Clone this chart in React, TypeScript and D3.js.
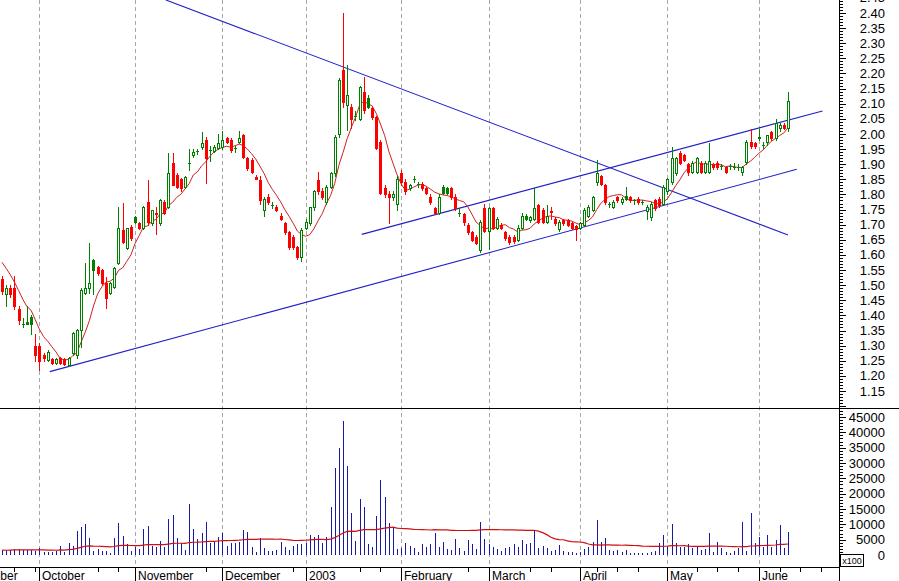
import React from 'react';
import * as d3 from 'd3';

// ---------- DATA ----------
// [open, high, low, close] per trading bar
const sepBars = [
  [1.52, 1.53, 1.47, 1.48], [1.47, 1.50, 1.43, 1.49], [1.49, 1.50, 1.46, 1.47],
  [1.49, 1.53, 1.42, 1.43], [1.42, 1.43, 1.37, 1.385], [1.37, 1.39, 1.36, 1.37],
  [1.372, 1.43, 1.37, 1.378], [1.372, 1.40, 1.34, 1.395], [1.30, 1.34, 1.25, 1.27],
];
const octBars = [
  [1.30, 1.31, 1.22, 1.25], [1.269, 1.275, 1.25, 1.259], [1.253, 1.285, 1.25, 1.279],
  [1.256, 1.26, 1.24, 1.243], [1.243, 1.258, 1.238, 1.256], [1.258, 1.262, 1.24, 1.243],
  [1.256, 1.26, 1.236, 1.24], [1.236, 1.262, 1.232, 1.259], [1.276, 1.345, 1.27, 1.342],
  [1.269, 1.355, 1.26, 1.352], [1.352, 1.49, 1.296, 1.484], [1.475, 1.573, 1.47, 1.49],
  [1.49, 1.639, 1.474, 1.507], [1.55, 1.585, 1.47, 1.583], [1.56, 1.565, 1.535, 1.54],
  [1.55, 1.555, 1.50, 1.507], [1.507, 1.527, 1.424, 1.458], [1.474, 1.51, 1.47, 1.507],
  [1.494, 1.56, 1.49, 1.557], [1.573, 1.758, 1.57, 1.689], [1.682, 1.772, 1.64, 1.643],
  [1.623, 1.69, 1.62, 1.689], [1.692, 1.70, 1.65, 1.656],
];
const novBars = [
  [1.709, 1.73, 1.705, 1.725], [1.706, 1.71, 1.685, 1.69], [1.689, 1.762, 1.685, 1.758],
  [1.775, 1.848, 1.70, 1.709], [1.706, 1.75, 1.70, 1.749], [1.737, 1.76, 1.67, 1.735],
  [1.706, 1.785, 1.70, 1.782], [1.775, 1.78, 1.735, 1.739], [1.758, 1.937, 1.755, 1.871],
  [1.904, 1.937, 1.83, 1.831], [1.864, 1.87, 1.82, 1.825], [1.85, 1.855, 1.81, 1.82],
  [1.825, 1.86, 1.82, 1.858], [1.904, 1.95, 1.88, 1.905], [1.93, 1.95, 1.925, 1.94],
  [1.94, 1.95, 1.935, 1.944], [1.957, 2.007, 1.95, 1.97], [1.98, 1.99, 1.838, 1.92],
  [1.944, 1.96, 1.91, 1.946], [1.944, 1.965, 1.94, 1.957], [1.954, 2.00, 1.95, 1.97],
];
const decBars = [
  [1.957, 2.01, 1.95, 1.98], [1.987, 1.99, 1.97, 1.973], [1.98, 1.985, 1.94, 1.947],
  [1.95, 1.96, 1.94, 1.952], [1.973, 2.01, 1.97, 1.987], [1.997, 2.00, 1.92, 1.924],
  [1.92, 1.925, 1.88, 1.887], [1.914, 1.92, 1.87, 1.874], [1.858, 1.865, 1.85, 1.852],
  [1.848, 1.86, 1.77, 1.78], [1.75, 1.79, 1.73, 1.785], [1.79, 1.80, 1.77, 1.775],
  [1.765, 1.775, 1.755, 1.766], [1.76, 1.765, 1.745, 1.75], [1.73, 1.74, 1.715, 1.72],
  [1.705, 1.71, 1.67, 1.675], [1.675, 1.68, 1.62, 1.626], [1.66, 1.665, 1.62, 1.625],
  [1.626, 1.63, 1.585, 1.593], [1.593, 1.69, 1.58, 1.683],
];
const janBars = [
  [1.69, 1.72, 1.685, 1.71], [1.705, 1.76, 1.70, 1.758], [1.758, 1.815, 1.75, 1.81],
  [1.848, 1.874, 1.80, 1.81], [1.81, 1.82, 1.785, 1.79], [1.775, 1.83, 1.77, 1.825],
  [1.825, 1.875, 1.82, 1.87], [1.87, 1.995, 1.86, 1.99], [2.00, 2.185, 1.99, 2.18],
  [2.21, 2.40, 2.09, 2.105], [2.096, 2.228, 2.013, 2.13], [2.09, 2.10, 2.02, 2.05],
  [2.06, 2.075, 2.045, 2.06], [2.05, 2.16, 2.045, 2.155], [2.14, 2.19, 2.07, 2.08],
  [2.09, 2.13, 2.085, 2.12], [2.085, 2.09, 2.05, 2.055], [2.055, 2.06, 1.95, 1.955],
  [1.973, 1.98, 1.80, 1.805], [1.82, 1.83, 1.79, 1.80], [1.80, 1.81, 1.705, 1.79],
  [1.79, 1.81, 1.78, 1.80], [1.77, 1.86, 1.75, 1.85],
];
const febBars = [
  [1.87, 1.88, 1.83, 1.84], [1.84, 1.85, 1.80, 1.81], [1.82, 1.835, 1.815, 1.83],
  [1.85, 1.86, 1.84, 1.85], [1.83, 1.84, 1.825, 1.835], [1.835, 1.84, 1.815, 1.82],
  [1.82, 1.825, 1.80, 1.805], [1.79, 1.80, 1.77, 1.775], [1.755, 1.76, 1.735, 1.74],
  [1.74, 1.80, 1.735, 1.79], [1.805, 1.83, 1.80, 1.825], [1.805, 1.825, 1.80, 1.82],
  [1.82, 1.825, 1.785, 1.79], [1.79, 1.80, 1.75, 1.755], [1.74, 1.755, 1.73, 1.74],
  [1.735, 1.74, 1.70, 1.71], [1.70, 1.705, 1.67, 1.675], [1.675, 1.68, 1.645, 1.65],
  [1.66, 1.665, 1.635, 1.64], [1.615, 1.715, 1.61, 1.71], [1.755, 1.77, 1.675, 1.68],
];
const marBars = [
  [1.68, 1.76, 1.62, 1.755], [1.755, 1.76, 1.685, 1.69], [1.69, 1.725, 1.685, 1.72],
  [1.70, 1.705, 1.685, 1.69], [1.675, 1.68, 1.65, 1.655], [1.66, 1.665, 1.635, 1.643],
  [1.66, 1.665, 1.64, 1.645], [1.65, 1.70, 1.645, 1.69], [1.69, 1.74, 1.685, 1.73],
  [1.72, 1.735, 1.715, 1.73], [1.715, 1.73, 1.71, 1.725], [1.72, 1.82, 1.715, 1.755],
  [1.765, 1.77, 1.705, 1.71], [1.75, 1.755, 1.705, 1.71], [1.71, 1.765, 1.705, 1.73],
  [1.745, 1.76, 1.72, 1.743], [1.72, 1.725, 1.70, 1.705], [1.685, 1.715, 1.68, 1.71],
  [1.715, 1.72, 1.70, 1.705], [1.715, 1.72, 1.695, 1.70], [1.705, 1.71, 1.685, 1.69],
  [1.695, 1.70, 1.65, 1.685],
];
const aprBars = [
  [1.69, 1.71, 1.685, 1.705], [1.70, 1.755, 1.695, 1.75], [1.73, 1.765, 1.725, 1.76],
  [1.75, 1.795, 1.745, 1.79], [1.84, 1.914, 1.83, 1.87], [1.86, 1.865, 1.83, 1.835],
  [1.83, 1.835, 1.77, 1.775], [1.77, 1.775, 1.76, 1.77], [1.76, 1.78, 1.755, 1.775],
  [1.79, 1.795, 1.775, 1.78], [1.775, 1.79, 1.77, 1.785], [1.785, 1.825, 1.78, 1.795],
  [1.79, 1.795, 1.775, 1.78], [1.78, 1.785, 1.77, 1.78], [1.785, 1.79, 1.77, 1.775],
  [1.775, 1.78, 1.77, 1.775], [1.745, 1.765, 1.72, 1.76], [1.725, 1.775, 1.715, 1.77],
  [1.78, 1.785, 1.75, 1.755], [1.785, 1.79, 1.76, 1.765], [1.77, 1.83, 1.765, 1.825],
];
const mayBars = [
  [1.81, 1.855, 1.80, 1.85], [1.84, 1.957, 1.835, 1.92], [1.87, 1.925, 1.865, 1.92],
  [1.937, 1.945, 1.90, 1.904], [1.93, 1.935, 1.91, 1.915], [1.90, 1.905, 1.865, 1.875],
  [1.875, 1.91, 1.87, 1.905], [1.875, 1.925, 1.87, 1.92], [1.905, 1.91, 1.87, 1.875],
  [1.875, 1.91, 1.87, 1.905], [1.875, 1.97, 1.87, 1.91], [1.90, 1.905, 1.885, 1.89],
  [1.905, 1.91, 1.885, 1.89], [1.895, 1.90, 1.885, 1.895], [1.89, 1.895, 1.87, 1.875],
  [1.895, 1.90, 1.885, 1.895], [1.89, 1.905, 1.885, 1.89], [1.89, 1.90, 1.88, 1.89],
  [1.875, 1.895, 1.865, 1.89], [1.907, 1.98, 1.90, 1.973], [1.973, 2.015, 1.955, 1.96],
  [1.97, 1.975, 1.955, 1.96],
];
const junBars = [
  [1.985, 2.015, 1.98, 1.99], [1.965, 1.975, 1.955, 1.965], [1.973, 1.99, 1.965, 1.997],
  [2.007, 2.01, 1.98, 1.987], [1.987, 2.05, 1.98, 2.035], [2.02, 2.035, 2.01, 2.03],
  [2.03, 2.035, 2.015, 2.02], [2.02, 2.14, 2.01, 2.11],
];
// bars drawn as solid green (up) candles
const solidUp = [6, 7, 22, 32, 88, 106, 107, 126, 150, 182];
// closes before the first visible bar (for the moving average)
const priorCloses = [1.63, 1.62, 1.60, 1.58, 1.57, 1.55];

// volume (shown in units of x100)
const volume = [
  1600, 1500, 1700, 1800, 1900, 1700, 1500, 1700, 1400,
  2170, 1100, 1100, 1100, 1400, 3000, 1100, 4000, 3000, 7900, 9200, 10100, 5400, 1200,
  1850, 1400, 1400, 800, 5400, 10500, 6300, 3600, 1400,
  2700, 1850, 8500, 9600, 3000, 2700, 4700, 2500, 11800, 12900, 5400, 4000, 1500,
  16600, 8400, 5100, 7300, 10900, 3800, 4300, 6000,
  7300, 3000, 3800, 4000, 4300, 8150, 7400, 2700, 1100, 5400, 2200, 1400, 1400, 1600,
  4300, 2700, 1500, 3000, 3500, 3600,
  4000, 6500, 5800, 6500, 4000, 6000, 15500, 28300, 34800, 43800, 29000, 13800, 4700,
  18400, 15500, 3600, 2700, 12800, 24500, 18800, 10500, 8900, 2000,
  2200, 4000, 3000, 2200, 1100, 3600, 2700, 3600, 7300, 2700, 4300, 1800, 1600, 5100,
  2200, 1200, 4900, 3500, 1850, 10700, 5100,
  3600, 2700, 1850, 1400, 2200, 2700, 3600, 2700, 4900, 3600, 3800, 8150, 2200, 3000,
  2200, 1200, 1600, 3300, 1400, 1100, 1100, 800,
  1100, 1850, 2700, 4300, 11400, 4300, 5400, 1600, 1400, 1600, 1100, 1600, 800, 500,
  700, 500, 800, 1100, 1400, 3800, 6500,
  2700, 10000, 4000, 2700, 2700, 3600, 2200, 2700, 1600, 1850, 7100, 1100, 4300, 2200,
  1100, 800, 1400, 2200, 10700, 1200, 13800, 4000,
  6000, 2700, 6500, 2700, 4900, 9800, 2200, 7600,
];

// month starts (bar index) and labels
const monthStarts = [-11, 9, 32, 53, 73, 96, 117, 139, 160, 182];
const monthLabels = ['September', 'October', 'November', 'December', '2003', 'February', 'March', 'April', 'May', 'June'];
const weekTicks = [3, 8, 23, 28, 49, 70, 86, 91, 112, 127, 132, 143, 148, 153, 167, 172, 177, 187, 192, 197];

// trend lines in (bar index, price)
const trendLines = [
  { i1: 39.4, p1: 2.443, i2: 189, p2: 1.666 },
  { i1: 11.5, p1: 1.214, i2: 191.1, p2: 1.883 },
  { i1: 86.5, p1: 1.668, i2: 197.3, p2: 2.076 },
];

const priceLabels = d3.range(115, 250, 5).map((v) => v / 100);
const volumeLabels = d3.range(0, 45001, 5000);

const MA_PERIOD = 7;
const VOL_MA_PERIOD = 50;

const FONT = 'Liberation Sans, Arial, sans-serif';

export default function App() {
  const bars = [...sepBars, ...octBars, ...novBars, ...decBars, ...janBars, ...febBars, ...marBars, ...aprBars, ...mayBars, ...junBars];
  const n = bars.length;

  const x = d3.scaleLinear().domain([0, 189]).range([2, 788]);
  const yP = d3.scaleLinear().domain([1.15, 2.40]).range([391, 13]);
  const yV = d3.scaleLinear().domain([0, 45000]).range([555, 417]);

  const plotRight = 839;
  const priceBottom = 408;
  const volBottom = 567;

  const closesAll = [...priorCloses, ...bars.map((b) => b[3])];
  const ma = bars.map((_, i) => d3.mean(closesAll.slice(i + priorCloses.length - MA_PERIOD + 1, i + priorCloses.length + 1)) as number);
  const vma = volume.slice(0, n).map((_, i) => d3.mean(volume.slice(Math.max(0, i - VOL_MA_PERIOD + 1), i + 1)) as number);

  const maLine = d3.line<number>().x((_, i) => x(i)).y((d) => yP(d))(ma) || '';
  const vmaLine = d3.line<number>().x((_, i) => x(i)).y((d) => yV(d))(vma) || '';

  const px = (i: number) => Math.round(x(i));

  const priceMinor = d3.range(110, 245).map((v) => v / 100).filter((p) => yP(p) >= 0 && yP(p) <= priceBottom);
  const volMinor = d3.range(0, 49001, 1000).filter((v) => yV(v) > priceBottom + 2);

  return (
    <svg width={899} height={581} style={{ position: 'absolute', left: 0, top: 0, background: '#fff' }} xmlns="http://www.w3.org/2000/svg">
      <defs>
        <clipPath id="pclip"><rect x={0} y={0} width={plotRight} height={priceBottom} /></clipPath>
        <clipPath id="vclip"><rect x={0} y={priceBottom} width={plotRight} height={volBottom - priceBottom} /></clipPath>
      </defs>
      <rect x={0} y={0} width={899} height={581} fill="#fff" />

      {/* month grid lines */}
      {monthStarts.map((m) => (
        <line key={'g' + m} x1={px(m) + 0.5} x2={px(m) + 0.5} y1={0} y2={volBottom} stroke="#a8a8a8" strokeDasharray="4,3" />
      ))}

      {/* price panel */}
      <g clipPath="url(#pclip)">
        {trendLines.map((t, k) => (
          <line key={'t' + k} x1={x(t.i1)} y1={yP(t.p1)} x2={x(t.i2)} y2={yP(t.p2)} stroke="#2020c8" strokeWidth={1.1} />
        ))}
        <path d={maLine} fill="none" stroke="#cc2222" strokeWidth={1} />
        <g shapeRendering="crispEdges">
          {bars.map((b, i) => {
            const [o, h, l, c] = b;
            const cx = px(i);
            const up = c >= o;
            const solid = solidUp.includes(i);
            const color = up ? '#008000' : '#ff0000';
            const top = Math.round(yP(Math.max(o, c)));
            const bot = Math.round(yP(Math.min(o, c)));
            const hgt = Math.max(1, bot - top);
            return (
              <g key={'c' + i}>
                <line x1={cx + 0.5} x2={cx + 0.5} y1={Math.round(yP(h))} y2={Math.round(yP(l)) + 1} stroke={color} />
                {up && !solid ? (
                  hgt <= 1 ? (
                    <rect x={cx - 1} y={top} width={3} height={1} fill={color} />
                  ) : (
                    <rect x={cx - 0.5} y={top + 0.5} width={2} height={hgt} fill="#fff" stroke={color} />
                  )
                ) : (
                  <rect x={cx - 1} y={top} width={3} height={hgt + 1} fill={solid ? '#008000' : '#ff0000'} />
                )}
              </g>
            );
          })}
        </g>
      </g>

      {/* volume panel */}
      <g clipPath="url(#vclip)">
        <g shapeRendering="crispEdges">
          {volume.slice(0, n).map((v, i) => (
            <line key={'v' + i} x1={px(i) + 0.5} x2={px(i) + 0.5} y1={yV(0)} y2={yV(v)} stroke="#1a1aa0" />
          ))}
        </g>
        <path d={vmaLine} fill="none" stroke="#d01010" strokeWidth={1.2} />
      </g>

      {/* frame */}
      <g shapeRendering="crispEdges" stroke="#000">
        <line x1={0} x2={899} y1={priceBottom + 0.5} y2={priceBottom + 0.5} />
        <line x1={0} x2={plotRight + 1} y1={volBottom + 0.5} y2={volBottom + 0.5} />
        <line x1={plotRight + 0.5} x2={plotRight + 0.5} y1={0} y2={581} />
        {priceMinor.map((p) => {
          const major = Math.round(p * 100) % 5 === 0;
          const yy = Math.round(yP(p)) + 0.5;
          return <line key={'pm' + p} x1={plotRight} x2={plotRight + (major ? 7 : 4)} y1={yy} y2={yy} />;
        })}
        {volMinor.map((v) => {
          const major = v % 5000 === 0;
          const yy = Math.round(yV(v)) + 0.5;
          return <line key={'vm' + v} x1={plotRight} x2={plotRight + (major ? 7 : 4)} y1={yy} y2={yy} />;
        })}
        {monthStarts.map((m) => (
          <line key={'mt' + m} x1={px(m) + 0.5} x2={px(m) + 0.5} y1={volBottom} y2={581} />
        ))}
        {weekTicks.map((w) => (
          <line key={'wt' + w} x1={px(w) + 0.5} x2={px(w) + 0.5} y1={volBottom} y2={volBottom + 5} />
        ))}
      </g>

      {/* axis labels */}
      <g fontFamily={FONT} fontSize={13} fill="#000" textAnchor="end">
        {priceLabels.map((p) => (
          <text key={'pl' + p} x={885} y={yP(p)} dy="0.35em">{p.toFixed(2)}</text>
        ))}
        {volumeLabels.map((v) => (
          <text key={'vl' + v} x={885} y={yV(v)} dy="0.35em">{v}</text>
        ))}
      </g>
      <rect x={840.5} y={554.5} width={23} height={12} fill="#fff" stroke="#000" shapeRendering="crispEdges" />
      <text x={852} y={564} fontFamily={FONT} fontSize={9} textAnchor="middle">x100</text>

      <g fontFamily={FONT} fontSize={12} fill="#000">
        {monthStarts.map((m, k) => (
          <text key={'ml' + m} x={px(m) + 3} y={580}>{monthLabels[k]}</text>
        ))}
      </g>
    </svg>
  );
}
